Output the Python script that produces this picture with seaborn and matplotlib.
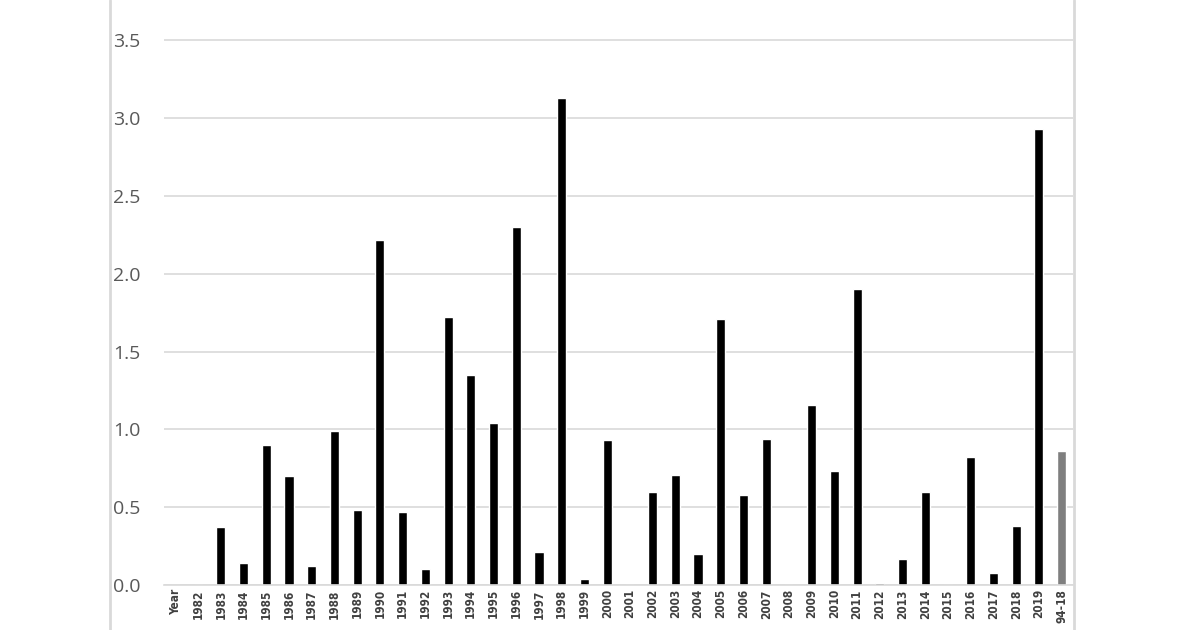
import matplotlib
matplotlib.use("Agg")
import matplotlib.pyplot as plt
from matplotlib.lines import Line2D
import seaborn as sns
import pandas as pd

sns.set_theme(style="white")
plt.rcParams["font.family"] = ["Open Sans", "DejaVu Sans"]

# valores
CATEGORIAS = ["Year"] + [str(a) for a in range(1982, 2020)] + ["94-18"]
VALORES = [
    0.0, 0.0, 0.37, 0.14, 0.90, 0.70, 0.12, 0.99, 0.48, 2.22,
    0.47, 0.10, 1.72, 1.35, 1.04, 2.30, 0.21, 3.13, 0.04, 0.93,
    0.0, 0.60, 0.71, 0.20, 1.71, 0.58, 0.94, 0.0, 1.16, 0.73,
    1.90, 0.01, 0.17, 0.60, 0.0, 0.82, 0.08, 0.38, 2.93, 0.86,
]
CORES = ["#000000"] * (len(CATEGORIAS) - 1) + ["#7f7f7f"]
Y_TICKS = [0.0, 0.5, 1.0, 1.5, 2.0, 2.5, 3.0, 3.5]

df = pd.DataFrame({"cat": CATEGORIAS, "valor": VALORES})

fig = plt.figure(figsize=(12, 6.3), dpi=100)
ax = fig.add_axes([164 / 1200, 45 / 630, (1073 - 164) / 1200, 585 / 630])

sns.barplot(data=df, x="cat", y="valor", hue="cat", palette=CORES,
            legend=False, width=0.4, ax=ax, saturation=1)

ax.set_ylim(0, 3.76)
ax.set_xlim(-0.5, len(CATEGORIAS) - 0.5)
ax.set_yticks(Y_TICKS)
ax.set_yticklabels([f"{v:.1f}" for v in Y_TICKS], fontsize=14, color="#595959")
ax.tick_params(axis="y", length=0, pad=17)
ax.tick_params(axis="x", length=0, pad=3)
for lbl in ax.get_xticklabels():
    lbl.set_rotation(90)
    lbl.set_fontsize(8.5)
    lbl.set_fontfamily(["DejaVu Sans"])
    lbl.set_fontstretch("condensed")
    lbl.set_fontweight("bold")
    lbl.set_color("#404040")
    lbl.set_va("top")
ax.set_xlabel("")
ax.set_ylabel("")
ax.yaxis.grid(True, color="#d9d9d9", linewidth=1.2)
ax.set_axisbelow(True)
for s in ["top", "right", "left"]:
    ax.spines[s].set_visible(False)
ax.spines["bottom"].set_color("#d9d9d9")
ax.spines["bottom"].set_linewidth(1.2)

# bordas da área do gráfico
for x in (110 / 1200, 1074 / 1200):
    fig.add_artist(Line2D([x, x], [0, 1], color="#d9d9d9", linewidth=2,
                          transform=fig.transFigure))

fig.savefig("out.png", dpi=100, facecolor="white")
plt.close(fig)
